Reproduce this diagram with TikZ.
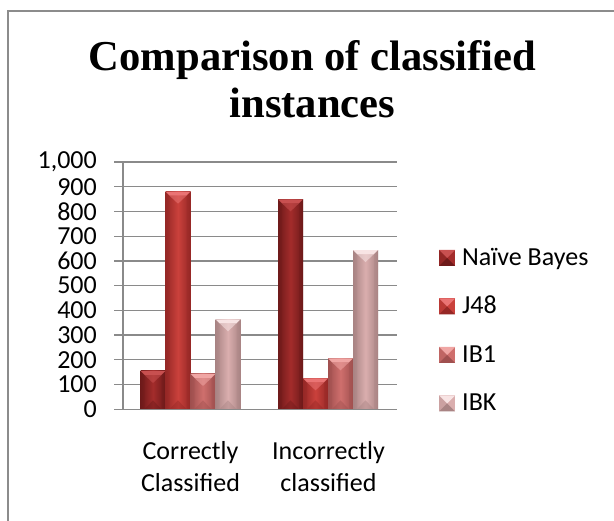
\documentclass[tikz,border=0pt]{standalone}
\usepackage{fontspec}
\setmainfont{Liberation Serif}
\newfontfamily\chartfont{Carlito}
\definecolor{framegray}{HTML}{8C8C8C}
\definecolor{gridgray}{HTML}{8A8A8A}
\definecolor{nbE}{HTML}{6E1A1A}\definecolor{nbB}{HTML}{A32C2B}\definecolor{nbL}{HTML}{C85050}
\definecolor{jE}{HTML}{962826}\definecolor{jB}{HTML}{CA413C}\definecolor{jL}{HTML}{EA7474}
\definecolor{ibE}{HTML}{A0504F}\definecolor{ibB}{HTML}{CF6F6D}\definecolor{ibL}{HTML}{F0A6A4}
\definecolor{ikE}{HTML}{A98484}\definecolor{ikB}{HTML}{DAAEAE}\definecolor{ikL}{HTML}{F8E4E4}
\tikzset{
  gridline/.style={draw=gridgray, line width=1.3pt},
  axisline/.style={draw=gridgray, line width=1.5pt},
  ticklabel/.style={font=\chartfont\fontsize{26}{30}\selectfont, inner sep=0pt, anchor=east},
  catlabel/.style={font=\chartfont\fontsize{26}{30}\selectfont, inner sep=0pt, anchor=base},
  legendlabel/.style={font=\chartfont\fontsize{26}{30}\selectfont, inner sep=0pt, anchor=base west},
  titletext/.style={font=\bfseries\fontsize{42.6}{47}\selectfont, inner sep=0pt, anchor=base},
}
% x, value, edge, base, light
\newcommand\chartbar[5]{%
  \pgfmathsetmacro\yt{409.3-0.2473*#2}%
  \shade[left color=#3, right color=#3, middle color=#4] (#1,\yt) rectangle (#1+25,409.3);
  \fill[#5] (#1,\yt) -- (#1+25,\yt) -- (#1+21,\yt+4) -- (#1+4,\yt+4) -- cycle;
  \fill[#5, opacity=0.55] (#1+4,\yt+4) -- (#1+21,\yt+4) -- (#1+12.5,\yt+12) -- cycle;
  \fill[#3, opacity=0.45] (#1+4,409.3) -- (#1+21,409.3) -- (#1+12.5,409.3-9) -- cycle;
  \fill[#3, opacity=0.35] (#1,\yt) -- (#1+4,\yt+4) -- (#1+4,409.3) -- (#1,409.3) -- cycle;
  \fill[#3, opacity=0.35] (#1+25,\yt) -- (#1+21,\yt+4) -- (#1+21,409.3) -- (#1+25,409.3) -- cycle;
}
% x, top y, edge, base, light
\newcommand\legendmark[5]{%
  \fill[#4] (#1,#2) rectangle (#1+16,#2+16);
  \fill[#5] (#1,#2) -- (#1+16,#2) -- (#1+8,#2+8) -- cycle;
  \fill[#3] (#1,#2+16) -- (#1+16,#2+16) -- (#1+8,#2+8) -- cycle;
  \fill[#3, opacity=0.3] (#1,#2) -- (#1+8,#2+8) -- (#1,#2+16) -- cycle;
}
\begin{document}
\begin{tikzpicture}[x=1pt,y=-1pt]
\useasboundingbox (0,0) rectangle (614,521);
\fill[white] (0,0) rectangle (614,521);
\draw[framegray, line width=2pt] (8,521) -- (8,11) -- (614,11);

% title
\node[titletext] (title1) at (312.5,70.5) {Comparison of classified};
\node[titletext] (title2) at (312.5,118) {instances};

% gridlines and value labels
\foreach \v/\t in {0/0,100/100,200/200,300/300,400/400,500/500,600/600,700/700,800/800,900/900,1000/{1,000}}{
  \pgfmathsetmacro\yy{409.3-0.2473*\v}
  \draw[gridline] (114,\yy) -- (397,\yy);
  \node[ticklabel] (lab\v) at (97,\yy) {\t};
}

% bars: Correctly Classified
\chartbar{140.5}{155}{nbE}{nbB}{nbL}
\chartbar{165.5}{880}{jE}{jB}{jL}
\chartbar{190.5}{143}{ibE}{ibB}{ibL}
\chartbar{215.5}{364}{ikE}{ikB}{ikL}
% bars: Incorrectly classified
\chartbar{278}{849}{nbE}{nbB}{nbL}
\chartbar{303}{125}{jE}{jB}{jL}
\chartbar{328}{206}{ibE}{ibB}{ibL}
\chartbar{353}{644}{ikE}{ikB}{ikL}

% axes
\draw[gridline] (114,409.3) -- (397,409.3);
\draw[axisline] (123,162) -- (123,409.3);

% category labels
\node[catlabel] (c1a) at (190.5,460) {Correctly};
\node[catlabel] (c1b) at (190.5,491.5) {Classified};
\node[catlabel] (c2a) at (328.5,460) {Incorrectly};
\node[catlabel] (c2b) at (328.5,491.5) {classified};

% legend
\legendmark{439}{250}{nbE}{nbB}{nbL}
\legendmark{439}{298.5}{jE}{jB}{jL}
\legendmark{439}{347}{ibE}{ibB}{ibL}
\legendmark{439}{395.5}{ikE}{ikB}{ikL}
\node[legendlabel] (leg1) at (462,265.5) {Naïve Bayes};
\node[legendlabel] (leg2) at (462,314) {J48};
\node[legendlabel] (leg3) at (462,362.5) {IB1};
\node[legendlabel] (leg4) at (462,411) {IBK};
\end{tikzpicture}
\end{document}
